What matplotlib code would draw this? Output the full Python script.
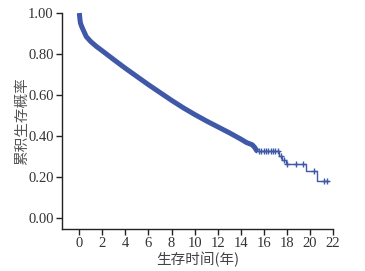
import numpy as np
import matplotlib
matplotlib.use('Agg')
import matplotlib.pyplot as plt

plt.rcParams['font.family'] = ['Liberation Serif', 'Noto Sans CJK SC']

# dense part of the Kaplan-Meier curve (censor marks merge into a thick band)
dense_t = [0, 0.05, 0.1, 0.2, 0.3, 0.6, 1.0, 1.5, 2, 3, 4, 5, 6, 7, 8, 9,
           10, 11, 12, 13, 14, 14.5, 15.0, 15.2, 15.4, 15.5]
dense_s = [1.0, 0.97, 0.95, 0.935, 0.922, 0.885, 0.86, 0.836, 0.815, 0.772,
           0.73, 0.69, 0.65, 0.612, 0.574, 0.538, 0.505, 0.474, 0.445, 0.416,
           0.385, 0.368, 0.357, 0.345, 0.328, 0.325]

# sparse tail (step function)
tail_t = [15.5, 17.35, 17.6, 17.9, 19.65, 20.65, 21.6]
tail_s = [0.325, 0.30, 0.285, 0.265, 0.227, 0.181, 0.181]

# censored observations in the tail
cens_t = [15.6, 15.8, 16.0, 16.2, 16.4, 16.6, 16.8, 17.0, 17.2,
          17.5, 17.75, 18.05, 18.8, 19.4, 20.4, 21.2, 21.5]
cens_s = [0.325, 0.325, 0.325, 0.325, 0.325, 0.325, 0.325, 0.325, 0.325,
          0.30, 0.285, 0.265, 0.265, 0.265, 0.227, 0.181, 0.181]

xticks = list(range(0, 23, 2))
yticks = [0.0, 0.2, 0.4, 0.6, 0.8, 1.0]

color = '#3f58a8'

fig = plt.figure(figsize=(3.65, 2.71), dpi=100)
ax = fig.add_axes([0.170, 0.155, 0.742, 0.797])

ax.plot(dense_t, dense_s, color=color, lw=3.6, solid_capstyle='butt',
        clip_on=False)
ax.plot(tail_t, tail_s, color=color, lw=1.0, drawstyle='steps-post')
ax.plot(cens_t, cens_s, '+', color=color, ms=4.5, mew=1.0)

ax.set_xlim(-1.5, 22)
ax.set_ylim(-0.054, 1.0)
ax.set_xticks(xticks)
ax.set_yticks(yticks)
ax.set_yticklabels(['%.2f' % v for v in yticks])

for s in ['top', 'right']:
    ax.spines[s].set_visible(False)
for s in ['left', 'bottom']:
    ax.spines[s].set_linewidth(1.0)
    ax.spines[s].set_color('#222222')
ax.tick_params(direction='out', length=4, width=1, labelsize=10.5,
               colors='#222222', labelcolor='#333333', pad=2)

ax.set_xlabel('生存时间(年)', fontsize=10.5, color='#444444',
              family=['Noto Sans CJK SC'], labelpad=1)
ax.set_ylabel('累积生存概率', fontsize=10.5, color='#555555',
              family=['Noto Sans CJK SC'], labelpad=-1)

fig.savefig('out.png', dpi=100)
